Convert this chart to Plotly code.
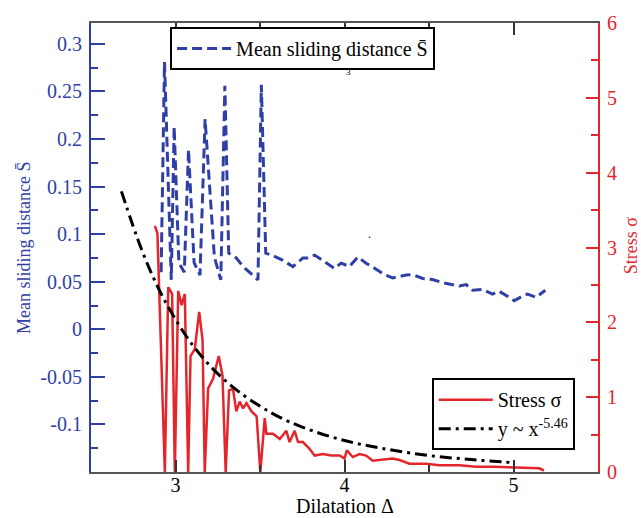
import plotly.graph_objects as go

# ---- data ----
s_x = [2.915, 2.935, 2.975, 2.992, 3.02, 3.052, 3.077, 3.11, 3.145, 3.175, 3.23, 3.268,
       3.292, 3.315, 3.36, 3.40, 3.488, 3.508, 3.534, 3.57, 3.63, 3.695, 3.754, 3.78,
       3.823, 3.892, 3.941, 3.98, 4.03, 4.079, 4.128, 4.18, 4.236, 4.286, 4.365, 4.405,
       4.463, 4.52, 4.581, 4.68, 4.72, 4.758, 4.817, 4.876, 4.915, 4.975, 5.004, 5.053,
       5.083, 5.133, 5.172, 5.188]
s_val = [0.06, 0.281, 0.052, 0.213, 0.070, 0.060, 0.189, 0.070, 0.057, 0.221, 0.076, 0.052,
         0.256, 0.080, 0.075, 0.066, 0.052, 0.257, 0.080, 0.078, 0.073, 0.066, 0.075, 0.075,
         0.078, 0.0695, 0.064, 0.0695, 0.066, 0.076, 0.0695, 0.064, 0.0575, 0.054, 0.057, 0.0575,
         0.0534, 0.0524, 0.049, 0.0455, 0.047, 0.041, 0.042, 0.037, 0.040, 0.0336, 0.030, 0.035,
         0.037, 0.0336, 0.0387, 0.041]

sigma_x = [2.878, 2.893, 2.937, 2.957, 2.98, 2.996, 3.016, 3.036, 3.055, 3.075, 3.089, 3.114,
           3.14, 3.16, 3.173, 3.193, 3.222, 3.256, 3.278, 3.297, 3.317, 3.34, 3.36, 3.38,
           3.40, 3.42, 3.45, 3.48, 3.502, 3.528, 3.538, 3.577, 3.617, 3.656, 3.675, 3.705,
           3.725, 3.754, 3.793, 3.823, 3.872, 3.921, 3.971, 4.0, 4.014, 4.049, 4.089, 4.128,
           4.167, 4.226, 4.285, 4.325, 4.384, 4.483, 4.561, 4.68, 4.778, 4.876, 4.975, 5.073,
           5.152, 5.18]
sigma_val = [3.29, 3.19, 0.0, 2.47, 2.38, 0.0, 2.42, 2.23, 2.38, 0.0, 1.55, 1.64,
             2.14, 1.77, 0.0, 1.115, 1.246, 1.55, 1.29, 0.0, 1.09, 1.115, 0.81, 0.94,
             0.85, 0.92, 0.81, 0.745, 0.0, 0.72, 0.51, 0.51, 0.44, 0.55, 0.40, 0.55,
             0.40, 0.40, 0.31, 0.22, 0.24, 0.22, 0.22, 0.18, 0.29, 0.20, 0.24, 0.22,
             0.15, 0.16, 0.18, 0.16, 0.11, 0.11, 0.09, 0.09, 0.07, 0.07, 0.06, 0.05,
             0.05, 0.02]

fit_x = [2.68, 2.8, 2.9, 3.0, 3.1, 3.2, 3.3, 3.4, 3.5, 3.6, 3.75, 4.0, 4.25, 4.5, 4.75, 5.0]
fit_val = [3.75, 2.97, 2.45, 2.04, 1.70, 1.43, 1.21, 1.03, 0.88, 0.75, 0.60, 0.42, 0.305, 0.22, 0.166, 0.125]

x_ticks = [3, 4, 5]
x_minor = [3.5, 4.5]
left_ticks = [-0.1, -0.05, 0, 0.05, 0.1, 0.15, 0.2, 0.25, 0.3]
left_labels = ["-0.1", "-0.05", "0", "0.05", "0.1", "0.15", "0.2", "0.25", "0.3"]
left_minor = [-0.125, -0.075, -0.025, 0.025, 0.075, 0.125, 0.175, 0.225, 0.275]
right_ticks = [0, 1, 2, 3, 4, 5, 6]
right_minor = [0.5, 1.5, 2.5, 3.5, 4.5, 5.5]

BLUE = "#2f3fa6"
RED = "#e3262b"
FONT = "Liberation Serif"
TS = 20  # horizontal text size

fig = go.Figure()
fig.add_trace(go.Scatter(x=s_x, y=s_val, mode="lines", name="Mean sliding distance S\u0304",
                         line=dict(color=BLUE, width=3, dash="10px,5px"), yaxis="y",
                         legend="legend", showlegend=True))
fig.add_trace(go.Scatter(x=sigma_x, y=sigma_val, mode="lines", name="Stress \u03c3",
                         line=dict(color=RED, width=2.5), yaxis="y2", legend="legend2",
                         showlegend=True))
fig.add_trace(go.Scatter(x=fit_x, y=fit_val, mode="lines", name="y ~ x<sup>-5.46</sup>",
                         line=dict(color="black", width=3, dash="12px,5px,3px,5px", shape="spline"),
                         yaxis="y2", legend="legend2", showlegend=True))

fig.update_layout(
    width=641, height=518,
    showlegend=True,
    margin=dict(l=91, r=43, t=13, b=46),
    paper_bgcolor="white", plot_bgcolor="white",
    font=dict(family=FONT, size=17, color="black"),
    xaxis=dict(range=[2.5, 5.5], tickmode="array", tickvals=x_ticks, ticks="inside",
               ticklen=12, tickwidth=1.5, tickcolor="#333", showline=True, linecolor="#555",
               linewidth=2, mirror="ticks", showgrid=False, zeroline=False,
               tickfont=dict(family=FONT, size=TS, color="black"), ticklabelstandoff=-6,
               minor=dict(tickmode="array", tickvals=x_minor, ticks="inside", ticklen=7,
                          tickcolor="#333", showgrid=False)),
    yaxis=dict(range=[-0.15, 0.322], tickmode="array", tickvals=left_ticks, ticktext=left_labels,
               ticks="inside", ticklen=14, tickwidth=1.5, tickcolor=BLUE, showline=True,
               linecolor=BLUE, linewidth=2, showgrid=False, zeroline=False,
               tickfont=dict(family=FONT, size=TS, color=BLUE), ticklabelstandoff=3,
               minor=dict(tickmode="array", tickvals=left_minor, ticks="inside", ticklen=7,
                          tickcolor=BLUE, showgrid=False)),
    yaxis2=dict(range=[0, 6], overlaying="y", side="right", tickmode="array", tickvals=right_ticks,
                ticks="inside", ticklen=12, tickwidth=1.5, tickcolor=RED, showline=True,
                linecolor=RED, linewidth=2, showgrid=False, zeroline=False,
                tickfont=dict(family=FONT, size=TS, color=RED), ticklabelstandoff=3,
                minor=dict(tickmode="array", tickvals=right_minor, ticks="inside", ticklen=7,
                           tickcolor=RED, showgrid=False)),
    legend=dict(x=0.156, y=0.991, xanchor="left", yanchor="top", bgcolor="white",
                bordercolor="black", borderwidth=2, font=dict(family=FONT, size=TS, color="black"),
                itemwidth=54, visible=True),
    legend2=dict(x=0.672, y=0.209, xanchor="left", yanchor="top", bgcolor="white",
                 bordercolor="black", borderwidth=2, font=dict(family=FONT, size=TS, color="black"),
                 itemwidth=54, visible=True),
    annotations=[
        dict(text="Mean sliding distance S\u0304", xref="paper", yref="paper", x=-0.1321, y=0.499,
             textangle=-90, showarrow=False, font=dict(family=FONT, size=18, color=BLUE),
             xanchor="center", yanchor="middle"),
        dict(text="Stress \u03c3", xref="paper", yref="paper", x=1.065, y=0.505,
             textangle=-90, showarrow=False, font=dict(family=FONT, size=18, color=RED),
             xanchor="center", yanchor="middle"),
        dict(text="Dilatation \u0394", xref="paper", yref="paper", x=0.5, y=-0.075,
             showarrow=False, font=dict(family=FONT, size=TS, color="black"),
             xanchor="center", yanchor="middle"),
        dict(text="3", xref="x", yref="y", x=4.024, y=0.27, showarrow=False,
             font=dict(family=FONT, size=9, color="black")),
        dict(text=".", xref="x", yref="y", x=4.148, y=0.1, showarrow=False,
             font=dict(family=FONT, size=12, color="black")),
    ],
)

fig.write_html("out.html")
